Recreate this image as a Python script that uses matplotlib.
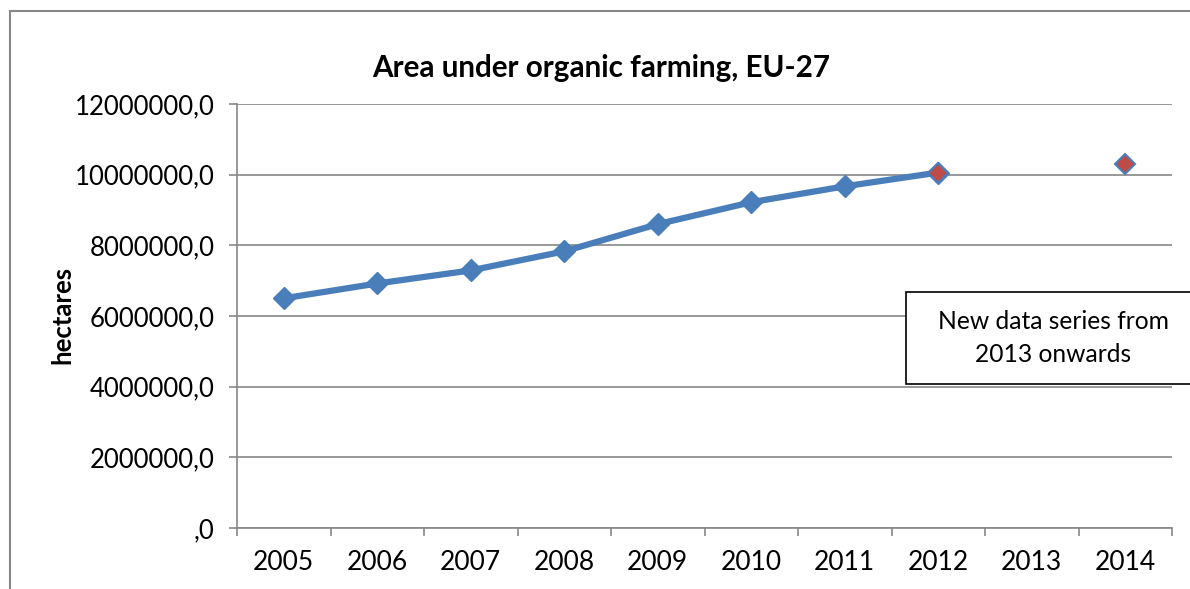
import matplotlib as mpl
mpl.use('Agg')
import matplotlib.pyplot as plt
from matplotlib.patches import Rectangle
from matplotlib.ticker import FuncFormatter, FixedLocator

# data
years = ['2005', '2006', '2007', '2008', '2009', '2010', '2011', '2012', '2013', '2014']
old_series = [6500000, 6920000, 7290000, 7830000, 8600000, 9220000, 9670000, 10060000]
new_years = ['2012', '2014']
new_series = [10060000, 10290000]

plt.rcParams['font.family'] = ['Lato', 'DejaVu Sans']

fig = plt.figure(figsize=(11.9, 5.89), dpi=100)
ax = fig.add_axes([237 / 1190, 1 - 528 / 589, 935 / 1190, 424 / 589])

grey = '#878787'
blue = '#4A7EBB'
red = '#BE4B48'

xs_old = [years.index(y) for y in years[:len(old_series)]]
xs_new = [years.index(y) for y in new_years]

ax.plot(xs_old, old_series, color=blue, lw=4.5, marker='D', ms=11,
        mfc=blue, mec=blue, solid_capstyle='round', zorder=3)
ax.plot(xs_new, new_series, ls='none', marker='D', ms=10,
        mfc=red, mec=blue, mew=1.5, zorder=4)

ax.set_xlim(-0.5, len(years) - 0.5)
ax.set_ylim(0, 12000000)
ax.set_yticks(range(0, 12000001, 2000000))
ax.yaxis.set_major_formatter(FuncFormatter(
    lambda v, p: ',0' if v == 0 else '%d,0' % v))
ax.set_xticks(range(len(years)))
ax.set_xticklabels(years)
ax.xaxis.set_minor_locator(FixedLocator([i - 0.5 for i in range(len(years) + 1)]))
ax.tick_params(axis='x', which='major', length=0, pad=16, labelsize=19)
ax.tick_params(axis='x', which='minor', length=6, color=grey, width=1.2)
ax.tick_params(axis='y', length=6, color=grey, width=1.2, pad=10, labelsize=18.5)

ax.grid(axis='y', color=grey, lw=1.2)
ax.set_axisbelow(True)
for side in ['top', 'right']:
    ax.spines[side].set_visible(False)
for side in ['left', 'bottom']:
    ax.spines[side].set_color(grey)
    ax.spines[side].set_linewidth(1.2)

fig.text(0.505, 1 - 68 / 589, 'Area under organic farming, EU-27',
         ha='center', va='center', fontsize=21.3, fontweight='bold')
fig.text(62 / 1190, 1 - 315 / 589, 'hectares', rotation=90,
         ha='center', va='center', fontsize=18.5, fontweight='bold')

# note box (runs off the right edge)
fig.patches.append(Rectangle((906 / 1190, 1 - 384 / 589), 300 / 1190, 92 / 589,
                             transform=fig.transFigure, fill=True, fc='white',
                             ec='black', lw=1.2, zorder=5))
fig.text(1053 / 1190, 1 - 338 / 589, 'New data series from\n2013 onwards',
         ha='center', va='center', fontsize=17.7, linespacing=1.5, zorder=6)

# outer chart border
fig.patches.append(Rectangle((10 / 1190, -0.1), 1.2, 1 - 11 / 589 + 0.1,
                             transform=fig.transFigure, fill=False,
                             ec=grey, lw=1.5, zorder=0))

fig.savefig('out.png', dpi=100)
